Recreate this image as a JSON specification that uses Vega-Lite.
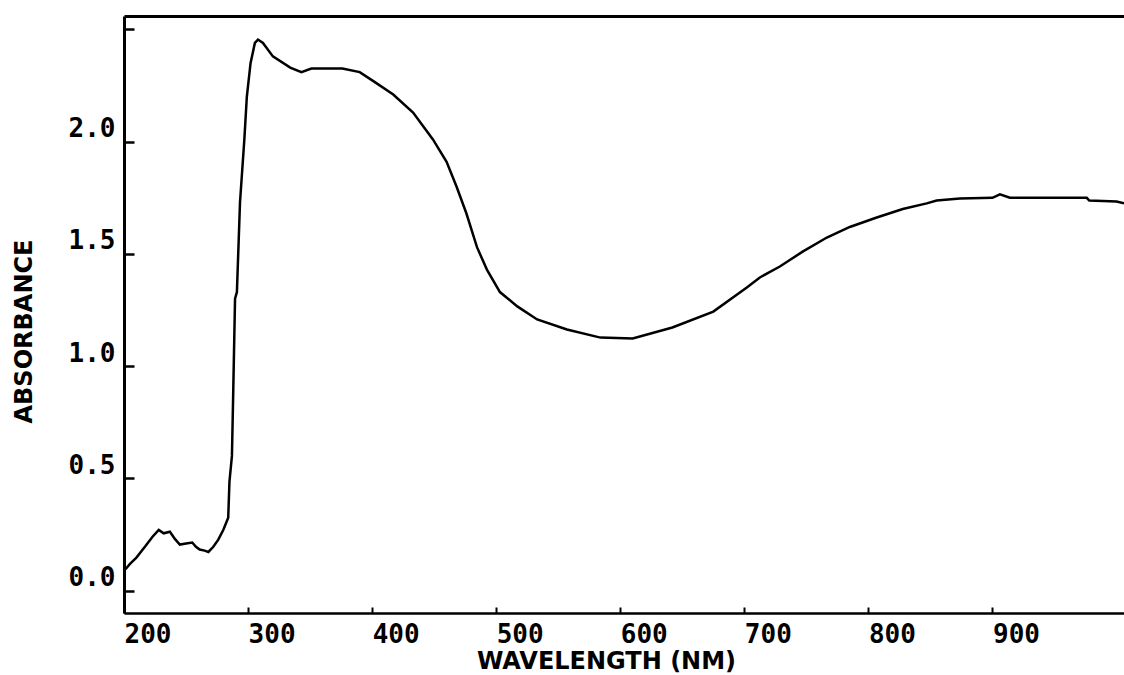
{
  "$schema": "https://vega.github.io/schema/vega-lite/v6.json",
  "width": 1000,
  "height": 597,
  "autosize": {"type": "none"},
  "padding": {"left": 124, "top": 16, "right": 0, "bottom": 62},
  "background": "white",
  "config": {"view": {"stroke": null}},
  "data": {"values": [
    {"wavelength": 201, "absorbance": 0.094},
    {"wavelength": 205, "absorbance": 0.12},
    {"wavelength": 210, "absorbance": 0.147},
    {"wavelength": 217, "absorbance": 0.196},
    {"wavelength": 223, "absorbance": 0.24},
    {"wavelength": 228, "absorbance": 0.27},
    {"wavelength": 232, "absorbance": 0.255},
    {"wavelength": 237, "absorbance": 0.262},
    {"wavelength": 241, "absorbance": 0.23},
    {"wavelength": 245, "absorbance": 0.205},
    {"wavelength": 250, "absorbance": 0.21},
    {"wavelength": 255, "absorbance": 0.214},
    {"wavelength": 258, "absorbance": 0.195},
    {"wavelength": 261, "absorbance": 0.183},
    {"wavelength": 265, "absorbance": 0.178},
    {"wavelength": 268, "absorbance": 0.172},
    {"wavelength": 272, "absorbance": 0.195},
    {"wavelength": 276, "absorbance": 0.227},
    {"wavelength": 280, "absorbance": 0.27},
    {"wavelength": 284, "absorbance": 0.325},
    {"wavelength": 285, "absorbance": 0.486},
    {"wavelength": 287, "absorbance": 0.6},
    {"wavelength": 288, "absorbance": 0.873},
    {"wavelength": 289.5, "absorbance": 1.3},
    {"wavelength": 291, "absorbance": 1.33},
    {"wavelength": 293.5, "absorbance": 1.73},
    {"wavelength": 297, "absorbance": 2.01},
    {"wavelength": 299, "absorbance": 2.2},
    {"wavelength": 302, "absorbance": 2.35},
    {"wavelength": 305.5, "absorbance": 2.44},
    {"wavelength": 308, "absorbance": 2.455},
    {"wavelength": 312, "absorbance": 2.44},
    {"wavelength": 320, "absorbance": 2.38},
    {"wavelength": 334, "absorbance": 2.33},
    {"wavelength": 343, "absorbance": 2.31},
    {"wavelength": 351, "absorbance": 2.326},
    {"wavelength": 376, "absorbance": 2.326},
    {"wavelength": 390, "absorbance": 2.31},
    {"wavelength": 401, "absorbance": 2.27},
    {"wavelength": 417, "absorbance": 2.21},
    {"wavelength": 433, "absorbance": 2.13},
    {"wavelength": 449, "absorbance": 2.01},
    {"wavelength": 460, "absorbance": 1.91},
    {"wavelength": 468, "absorbance": 1.8},
    {"wavelength": 476, "absorbance": 1.68},
    {"wavelength": 484.5, "absorbance": 1.53},
    {"wavelength": 492.5, "absorbance": 1.43},
    {"wavelength": 503, "absorbance": 1.33},
    {"wavelength": 517, "absorbance": 1.266},
    {"wavelength": 533, "absorbance": 1.208},
    {"wavelength": 557, "absorbance": 1.163},
    {"wavelength": 584, "absorbance": 1.127},
    {"wavelength": 610, "absorbance": 1.123},
    {"wavelength": 642, "absorbance": 1.172},
    {"wavelength": 675, "absorbance": 1.243},
    {"wavelength": 702, "absorbance": 1.35},
    {"wavelength": 712.5, "absorbance": 1.395},
    {"wavelength": 728.6, "absorbance": 1.444},
    {"wavelength": 747, "absorbance": 1.51},
    {"wavelength": 766.5, "absorbance": 1.573},
    {"wavelength": 785, "absorbance": 1.62},
    {"wavelength": 806.7, "absorbance": 1.662},
    {"wavelength": 827.7, "absorbance": 1.7},
    {"wavelength": 847, "absorbance": 1.725},
    {"wavelength": 855, "absorbance": 1.738},
    {"wavelength": 873.7, "absorbance": 1.747},
    {"wavelength": 900, "absorbance": 1.75},
    {"wavelength": 906, "absorbance": 1.765},
    {"wavelength": 914, "absorbance": 1.75},
    {"wavelength": 976, "absorbance": 1.75},
    {"wavelength": 978, "absorbance": 1.738},
    {"wavelength": 1000, "absorbance": 1.733},
    {"wavelength": 1006, "absorbance": 1.725}
  ]},
  "layer": [
    {
      "mark": {"type": "line", "color": "black", "strokeWidth": 2.5, "clip": true},
      "encoding": {
        "x": {
          "field": "wavelength", "type": "quantitative",
          "scale": {"domain": [200, 1006], "nice": false, "zero": false},
          "axis": {
            "values": [200, 300, 400, 500, 600, 700, 800, 900],
            "title": "WAVELENGTH (NM)",
            "grid": false,
            "domainColor": "black", "domainWidth": 2.5,
            "tickColor": "black", "tickSize": -6, "tickWidth": 2,
            "labelAlign": "left", "labelFlush": false,
            "labelFont": "DejaVu Sans Mono", "labelFontWeight": "bold", "labelFontSize": 26,
            "labelColor": "black", "labelPadding": 14,
            "titleFont": "DejaVu Sans", "titleFontWeight": "bold", "titleFontSize": 24,
            "titleColor": "black", "titleX": 482, "titleY": 48,
            "titleAlign": "center", "titleBaseline": "middle", "titleAnchor": null
          }
        },
        "y": {
          "field": "absorbance", "type": "quantitative",
          "scale": {"domain": [-0.1, 2.56], "nice": false, "zero": false},
          "axis": {
            "values": [0, 0.5, 1, 1.5, 2, 2.5],
            "labelExpr": "datum.value > 2.4 ? '' : format(datum.value, '.1f')",
            "title": "ABSORBANCE",
            "grid": false,
            "domainColor": "black", "domainWidth": 3,
            "tickColor": "black", "tickSize": -10, "tickWidth": 2.5,
            "labelFont": "DejaVu Sans Mono", "labelFontWeight": "bold", "labelFontSize": 26,
            "labelColor": "black", "labelPadding": 19, "labelOffset": -13,
            "labelBaseline": "middle", "labelFlush": false,
            "titleFont": "DejaVu Sans", "titleFontWeight": "bold", "titleFontSize": 24,
            "titleColor": "black", "titleX": -100, "titleY": 315,
            "titleAngle": -90, "titleAlign": "center", "titleBaseline": "middle", "titleAnchor": null
          }
        }
      }
    },
    {
      "mark": {"type": "line", "strokeOpacity": 0},
      "encoding": {
        "x": {
          "field": "wavelength", "type": "quantitative",
          "scale": {"domain": [200, 1006], "nice": false, "zero": false},
          "axis": {
            "orient": "top", "labels": false, "ticks": false, "title": null, "grid": false,
            "domainColor": "black", "domainWidth": 3
          }
        },
        "y": {
          "field": "absorbance", "type": "quantitative",
          "scale": {"domain": [-0.1, 2.56], "nice": false, "zero": false}
        }
      }
    }
  ],
  "resolve": {"axis": {"x": "independent"}}
}
